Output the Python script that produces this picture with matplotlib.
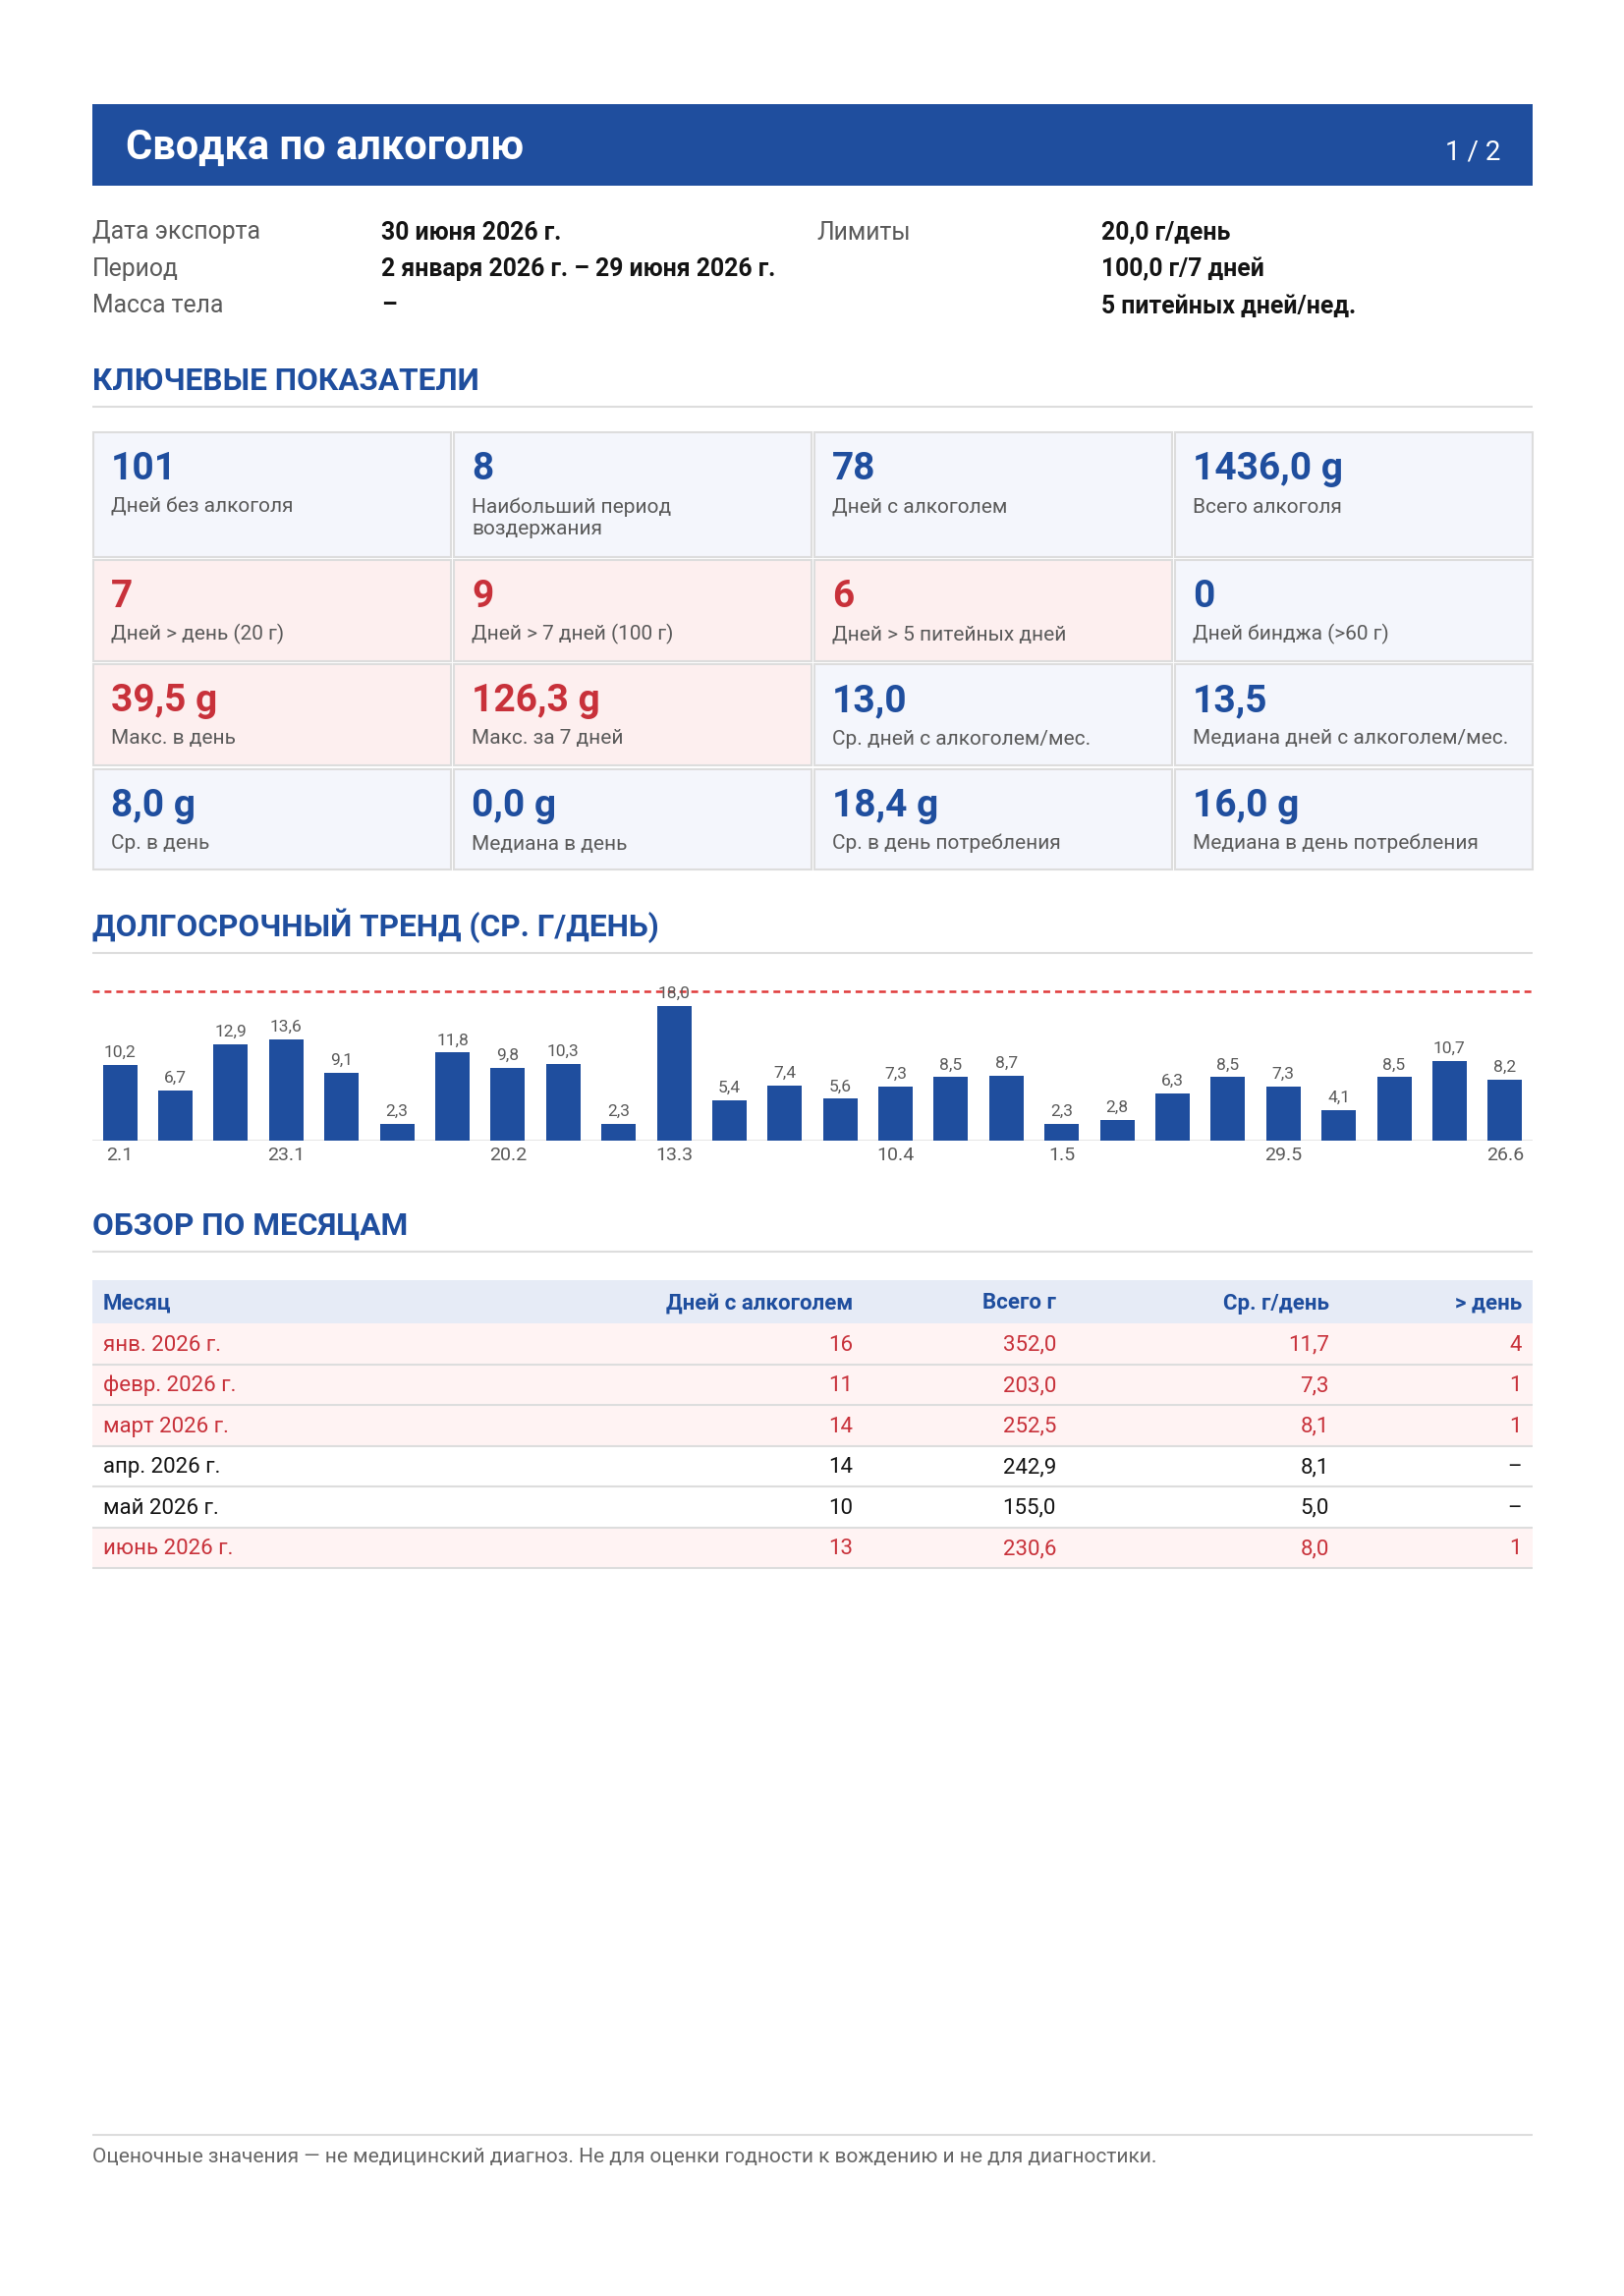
import matplotlib
matplotlib.use("Agg")
import matplotlib.pyplot as plt
from matplotlib.patches import Rectangle

plt.rcParams['font.family'] = ['Roboto', 'DejaVu Sans']
plt.rcParams['lines.scale_dashes'] = False

W, H = 1653, 2337
BLUE = '#1F4E9E'
RED = '#C8313A'
GRAY = '#5A5A5A'
LINE = '#DDDDDD'
DARK = '#141414'

# ---- data ----
title = "Сводка по алкоголю"
page = "1 / 2"
info_labels = ["Дата экспорта", "Период", "Масса тела"]
info_values = ["30 июня 2026 г.", "2 января 2026 г. – 29 июня 2026 г.", "–"]
limit_label = "Лимиты"
limit_values = ["20,0 г/день", "100,0 г/7 дней", "5 питейных дней/нед."]

kpi_values = ["101", "8", "78", "1436,0 g",
              "7", "9", "6", "0",
              "39,5 g", "126,3 g", "13,0", "13,5",
              "8,0 g", "0,0 g", "18,4 g", "16,0 g"]
kpi_labels = ["Дней без алкоголя", "Наибольший период\nвоздержания", "Дней с алкоголем", "Всего алкоголя",
              "Дней > день (20 г)", "Дней > 7 дней (100 г)", "Дней > 5 питейных дней", "Дней бинджа (>60 г)",
              "Макс. в день", "Макс. за 7 дней", "Ср. дней с алкоголем/мес.", "Медиана дней с алкоголем/мес.",
              "Ср. в день", "Медиана в день", "Ср. в день потребления", "Медиана в день потребления"]
kpi_alert = [False, False, False, False,
             True, True, True, False,
             True, True, False, False,
             False, False, False, False]

week_labels = ["2.1", "9.1", "16.1", "23.1", "30.1", "6.2", "13.2", "20.2", "27.2",
               "6.3", "13.3", "20.3", "27.3", "3.4", "10.4", "17.4", "24.4",
               "1.5", "8.5", "15.5", "22.5", "29.5", "5.6", "12.6", "19.6", "26.6"]
week_avg = [10.2, 6.7, 12.9, 13.6, 9.1, 2.3, 11.8, 9.8, 10.3, 2.3, 18.0, 5.4, 7.4,
            5.6, 7.3, 8.5, 8.7, 2.3, 2.8, 6.3, 8.5, 7.3, 4.1, 8.5, 10.7, 8.2]
shown_ticks = [0, 3, 7, 10, 14, 17, 21, 25]
daily_limit = 20.0

table_header = ["Месяц", "Дней с алкоголем", "Всего г", "Ср. г/день", "> день"]
months = ["янв. 2026 г.", "февр. 2026 г.", "март 2026 г.", "апр. 2026 г.", "май 2026 г.", "июнь 2026 г."]
drink_days = [16, 11, 14, 14, 10, 13]
total_g = [352.0, 203.0, 252.5, 242.9, 155.0, 230.6]
avg_g = [11.7, 7.3, 8.1, 8.1, 5.0, 8.0]
over_days = [4, 1, 1, 0, 0, 1]

footer = "Оценочные значения — не медицинский диагноз. Не для оценки годности к вождению и не для диагностики."


def ru(v):
    return f"{v:.1f}".replace('.', ',')


fig = plt.figure(figsize=(W / 100, H / 100), dpi=100)
lay = fig.add_axes([0, 0, 1, 1])
lay.set_xlim(0, W)
lay.set_ylim(H, 0)
lay.axis('off')

X0, X1 = 94, 1560

# header bar
lay.add_patch(Rectangle((X0, 106), X1 - X0, 83, facecolor=BLUE, lw=0))
lay.text(128, 162, title, color='white', fontsize=30, fontweight='bold', va='baseline')
lay.text(1527, 162, page, color='white', fontsize=20, ha='right', va='baseline')

# info block
for i, (lab, val) in enumerate(zip(info_labels, info_values)):
    y = 243.5 + i * 37.5
    lay.text(X0, y, lab, color=GRAY, fontsize=17.8, va='baseline')
    lay.text(388, y, val, color=DARK, fontsize=17.8, fontweight='bold', va='baseline')
lay.text(831, 243.5, limit_label, color=GRAY, fontsize=17.8, va='baseline')
for i, val in enumerate(limit_values):
    lay.text(1121, 243.5 + i * 37.5, val, color=DARK, fontsize=17.8, fontweight='bold', va='baseline')


def heading(text, base):
    lay.text(X0, base, text, color=BLUE, fontsize=22.8, fontweight='bold', va='baseline')
    lay.plot([X0, X1], [base + 17, base + 17], color=LINE, lw=1.5, solid_capstyle='butt')


heading("КЛЮЧЕВЫЕ ПОКАЗАТЕЛИ", 397)

# KPI grid
col_x = [95, 462, 829, 1196]
cell_w = 364
row_y = [440, 570, 676, 783]
row_h = [127, 103, 103, 102]
for i, (val, lab, alert) in enumerate(zip(kpi_values, kpi_labels, kpi_alert)):
    r, c = divmod(i, 4)
    x, y = col_x[c], row_y[r]
    lay.add_patch(Rectangle((x, y), cell_w, row_h[r],
                            facecolor='#FDEFEF' if alert else '#F4F6FC',
                            edgecolor=LINE, lw=1.5))
    lay.text(x + 18, y + 48, val, color=RED if alert else BLUE,
             fontsize=28, fontweight='bold', va='baseline')
    for k, line in enumerate(lab.split('\n')):
        lay.text(x + 18, y + 81.5 + k * 23, line, color=GRAY, fontsize=15, va='baseline')

# trend chart
heading("ДОЛГОСРОЧНЫЙ ТРЕНД (СР. Г/ДЕНЬ)", 953)
ax = fig.add_axes([X0 / W, 1 - 1161 / H, (X1 - X0) / W, 167 / H])
ax.patch.set_alpha(0)
n = len(week_avg)
ax.bar(range(n), week_avg, width=0.62, color=BLUE, zorder=2)
ax.axhline(daily_limit, color='#E03A3A', lw=1.8, dashes=(5, 3.6), zorder=1)
ax.axhline(0, color=LINE, lw=1.8, zorder=1)
for i, v in enumerate(week_avg):
    ax.annotate(ru(v), (i, v), xytext=(0, 5.8), textcoords='offset points',
                ha='center', va='baseline', fontsize=12.5, color='#5A5A5A', zorder=3)
ax.set_xlim(-0.5, n - 0.5)
ax.set_ylim(0, 22)
ax.set_xticks(shown_ticks, [week_labels[i] for i in shown_ticks])
ax.set_yticks([])
ax.tick_params(axis='x', length=0, pad=4.5, labelsize=14, labelcolor='#5A5A5A')
for s in ax.spines.values():
    s.set_visible(False)

# monthly table
heading("ОБЗОР ПО МЕСЯЦАМ", 1257)
tx = [105, 868, 1075, 1353, 1549]
talign = ['left', 'right', 'right', 'right', 'right']
lay.add_patch(Rectangle((X0, 1303), X1 - X0, 44, facecolor='#E6EBF6', lw=0))
for h, x, a in zip(table_header, tx, talign):
    lay.text(x, 1332.5, h, color=BLUE, fontsize=16, fontweight='bold', ha=a, va='baseline')
rh = 41.5
for i, m in enumerate(months):
    top = 1347 + i * rh
    flag = over_days[i] > 0
    if flag:
        lay.add_patch(Rectangle((X0, top), X1 - X0, rh, facecolor='#FFF3F3', lw=0))
    lay.plot([X0, X1], [top + rh, top + rh], color=LINE, lw=1.5, solid_capstyle='butt')
    cells = [m, str(drink_days[i]), ru(total_g[i]), ru(avg_g[i]),
             str(over_days[i]) if flag else "–"]
    for t, x, a in zip(cells, tx, talign):
        lay.text(x, top + rh / 2 + 7, t, color=RED if flag else DARK,
                 fontsize=16, ha=a, va='baseline')

# footer
lay.plot([X0, X1], [2173, 2173], color=LINE, lw=1.5, solid_capstyle='butt')
lay.text(X0, 2201, footer, color='#666666', fontsize=15, va='baseline')

fig.savefig("out.png", dpi=100)
